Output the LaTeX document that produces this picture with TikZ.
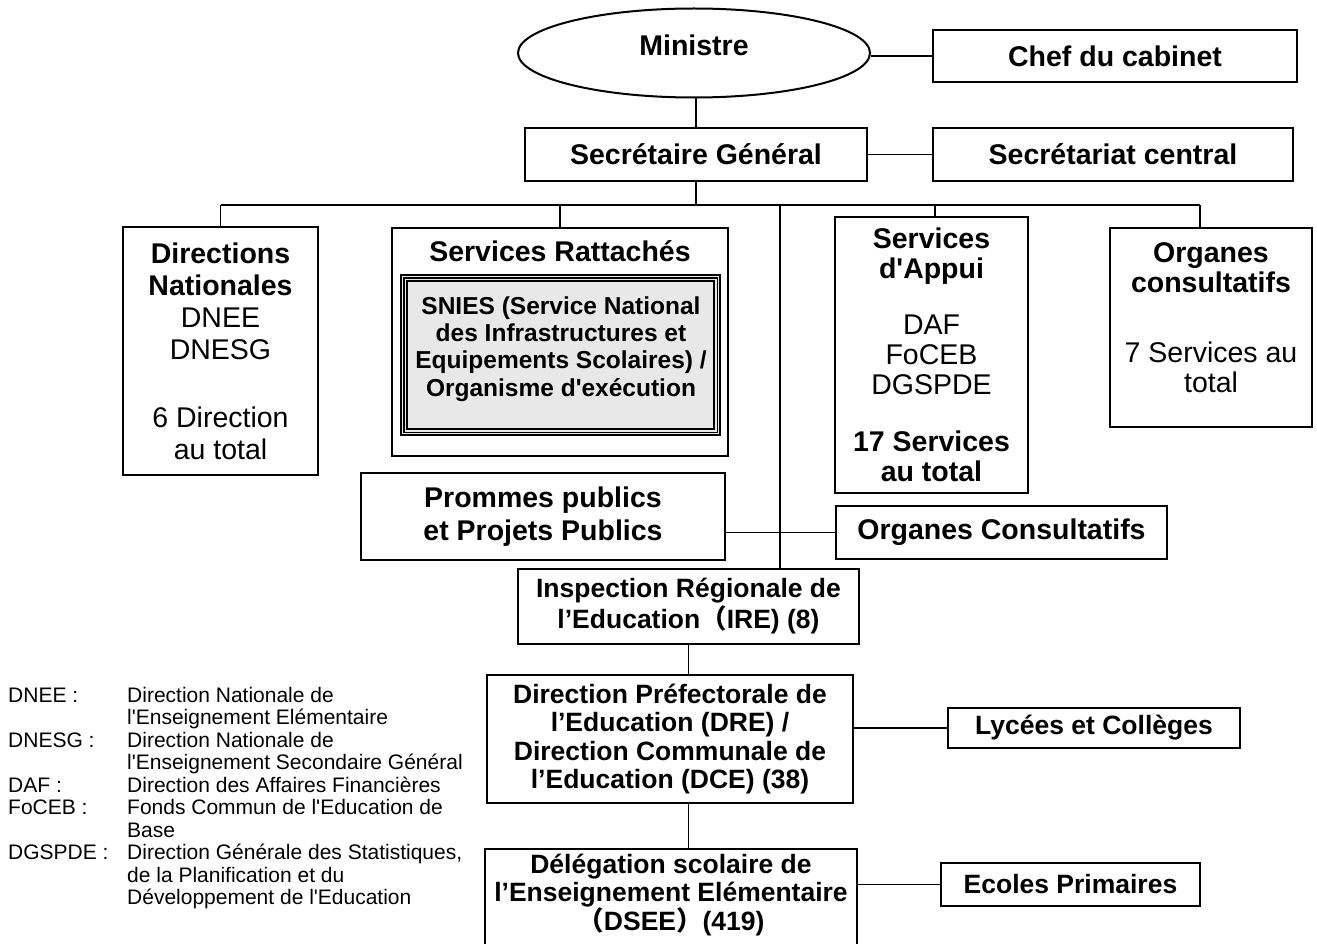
\documentclass[tikz,border=0pt]{standalone}
\usepackage{fontspec}
\setmainfont{Liberation Sans}
% same family without the TeX ligature mapping, for straight apostrophes
\newfontfamily\straightfont{Liberation Sans}
\newfontfamily\cjkfont{Noto Sans CJK SC}
\usetikzlibrary{shapes.geometric}
% full-width parentheses and straight apostrophe
\newcommand\fwl{{\cjkfont （}}
\newcommand\fwr{{\cjkfont ）}}
\newcommand\sq{{\straightfont '}}

\begin{document}
\begin{tikzpicture}[x=1pt,y=-1pt,
  box/.style={draw, line width=2pt, inner sep=0pt, align=center},
  link/.style={line width=1.2pt},
  topfont/.style={font=\fontsize{28.5}{31}\selectfont\bfseries},
  lowfont/.style={font=\fontsize{26.5}{28.5}\selectfont\bfseries},
  regfont/.style={font=\fontsize{28.5}{32}\selectfont},
]
\useasboundingbox (0,0) rectangle (1317,944);
\fill[white] (0,0) rectangle (1317,944);

% ---- top of the hierarchy
\node[ellipse, draw, line width=2pt, inner sep=0pt, minimum width=352pt,
      minimum height=89pt, align=center, topfont] (min) at (694,53) {Ministre\\[-15pt]\mbox{}};
\node[box, topfont, minimum width=364pt, minimum height=52pt] (chef) at (1115,56) {Chef du cabinet};
\node[box, topfont, minimum width=342pt, minimum height=53pt] (sg) at (696,154.5) {Secrétaire Général};
\node[box, topfont, minimum width=360pt, minimum height=53pt] (sec) at (1113,154.5) {Secrétariat central};

% ---- second level
\node[box, regfont, minimum width=195pt, minimum height=248pt] (dn) at (220.5,351)
  {\textbf{Directions}\\\textbf{Nationales}\\DNEE\\DNESG\\[36pt]6 Direction\\au total};

\node[box, minimum width=336pt, minimum height=228pt] (sr) at (560,342) {};
\node[anchor=base, topfont] (srt) at (560,261) {Services Rattachés};
\node[draw, line width=2.2pt, fill=black!9, inner sep=0pt, minimum width=319pt,
      minimum height=160pt] (sn) at (560.5,355) {};
\draw[line width=1.2pt] ([xshift=4pt,yshift=-4pt]sn.north west) rectangle ([xshift=-4pt,yshift=4pt]sn.south east);
\draw[line width=2pt] ([xshift=7.5pt,yshift=-7.5pt]sn.north west) rectangle ([xshift=-7.5pt,yshift=7.5pt]sn.south east);
\node[align=center, inner sep=0pt, font=\fontsize{24.5}{27.3}\selectfont\bfseries] (snt) at (561,349)
  {SNIES (Service National\\des Infrastructures et\\Equipements Scolaires) /\\Organisme d\sq exécution};

\node[box, font=\fontsize{28.5}{30}\selectfont, minimum width=193pt, minimum height=276pt] (sa) at (931.5,355)
  {\textbf{Services}\\\textbf{d\sq Appui}\\[26pt]DAF\\FoCEB\\DGSPDE\\[27pt]\textbf{17 Services}\\\textbf{au total}};

\node[box, font=\fontsize{28.5}{30}\selectfont, minimum width=202pt, minimum height=199pt] (oc) at (1211,327.5)
  {\textbf{Organes}\\\textbf{consultatifs}\\[40pt]7 Services au\\total\\[-10pt]\mbox{}};

% ---- third level
\node[box, font=\fontsize{28.5}{33}\selectfont\bfseries, minimum width=364pt, minimum height=87pt] (pp) at (543,516.5)
  {Prommes publics\\et Projets Publics};
\node[box, topfont, minimum width=331pt, minimum height=53pt] (oc2) at (1001.5,532.5) {Organes Consultatifs};

\node[box, font=\fontsize{26.5}{31}\selectfont\bfseries, minimum width=341pt, minimum height=75pt] (ire) at (688.5,606.5)
  {Inspection Régionale de\\l’Education\fwl IRE) (8)};

\node[box, lowfont, minimum width=366pt, minimum height=128pt] (dpe) at (670,739)
  {Direction Préfectorale de\\l’Education (DRE) /\\Direction Communale de\\l’Education (DCE) (38)};
\node[box, lowfont, minimum width=292pt, minimum height=40pt] (ly) at (1094,728) {Lycées et Collèges};

\node[box, lowfont, anchor=north, minimum width=372pt, inner ysep=5pt] (dsee) at (671,848)
  {Délégation scolaire de\\l’Enseignement Elémentaire\\\fwl DSEE\fwr(419)\\[20pt]\mbox{}};
\node[box, lowfont, minimum width=259pt, minimum height=43pt] (ec) at (1070.5,884.5) {Ecoles Primaires};

% ---- connectors
\coordinate (bus) at (0,205);
\coordinate (dropV) at (780,205);
\coordinate (dropA) at (935,205);
\coordinate (dropO) at (1200,205);

\draw[link] (min.east |- chef.west) -- (chef.west);
\draw[link] (min.south -| sg.north) -- (sg.north);
\draw[link] (sg.east) -- (sec.west);
\draw[link] (sg.south) -- (sg.south |- bus);
\draw[link] (dn.north |- bus) -- (dropO);
\draw[link] (dn.north |- bus) -- (dn.north);
\draw[link] (sr.north |- bus) -- (sr.north);
\draw[link] (dropA) -- (dropA |- sa.north);
\draw[link] (dropO) -- (dropO |- oc.north);
\draw[link] (dropV) -- (dropV |- ire.north);
\draw[link] (oc2.west -| pp.east) -- (oc2.west);
\draw[link] (ire.south) -- (ire.south |- dpe.north);
\draw[link] (ly.west -| dpe.east) -- (ly.west);
\draw[link] (dpe.south -| ire.south) -- (ire.south |- dsee.north);
\draw[link] (ec.west -| dsee.east) -- (ec.west);

% ---- abbreviations
\node[anchor=north west, inner sep=0pt, font=\fontsize{21}{22.5}\selectfont] (legend) at (8,686.5)
  {\begin{tabular}{@{}p{119pt}@{}l@{}}
   DNEE : & Direction Nationale de\\
          & l\sq Enseignement Elémentaire\\
   DNESG : & Direction Nationale de\\
          & l\sq Enseignement Secondaire Général\\
   DAF : & Direction des Affaires Financières\\
   FoCEB : & Fonds Commun de l\sq Education de\\
          & Base\\
   DGSPDE : & Direction Générale des Statistiques,\\
          & de la Planification et du\\
          & Développement de l\sq Education
   \end{tabular}};
\end{tikzpicture}
\end{document}
